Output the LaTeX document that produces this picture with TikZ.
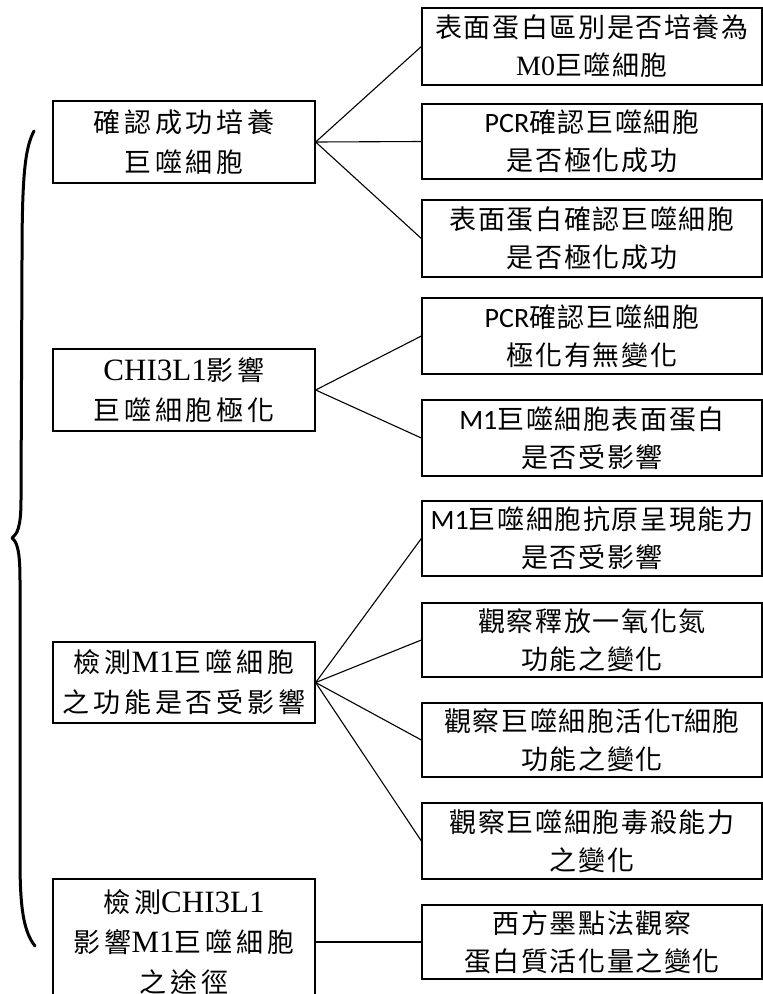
\documentclass[tikz,border=0pt]{standalone}
\usepackage{fontspec}
\setmainfont{Liberation Serif}
\newfontfamily\cjkR{Noto Sans CJK TC}[LetterSpace=6]
\newfontfamily\cjkL{Noto Sans CJK TC}[LetterSpace=14]
\newfontfamily\latR{Carlito}
\newfontfamily\latL{Liberation Serif}
\tikzset{
  lbox/.style={draw, line width=1.3pt, minimum width=262pt, minimum height=82pt,
    align=center, inner sep=0pt, font=\cjkL\fontsize{27}{40}\selectfont},
  rbox/.style={draw, line width=1.3pt, minimum width=340pt, minimum height=76pt,
    align=center, inner sep=0pt, font=\cjkR\fontsize{27}{38}\selectfont},
  link/.style={line width=1.1pt},
  bracepath/.style={line width=3pt, line cap=round, line join=round}
}
\begin{document}
\begin{tikzpicture}[x=1pt,y=-1pt]
\useasboundingbox (0,0) rectangle (763,994);
\fill[white] (0,0) rectangle (763,994);
% left boxes
\node[lbox] (l1) at (184,142) {確認成功培養\\巨噬細胞};
\node[lbox] (l2) at (184,390) {{\latL\fontsize{31}{40}\selectfont CHI3L1}影響\\巨噬細胞極化};
\node[lbox, minimum height=81pt] (l3) at (184,682.5) {檢測{\latL\fontsize{31}{40}\selectfont M1}巨噬細胞\\之功能是否受影響};
\node[lbox, minimum height=126pt] (l4) at (184,942) {檢測{\latL\fontsize{31}{40}\selectfont CHI3L1}\\影響{\latL\fontsize{31}{40}\selectfont M1}巨噬細胞\\之途徑};
% right boxes
\node[rbox, minimum height=77pt] (r1) at (592,46.5) {表面蛋白區別是否培養為\\{\latL\fontsize{28}{38}\selectfont M0}巨噬細胞};
\node[rbox, minimum height=75pt] (r2) at (592,141.5) {{\latR\fontsize{28}{38}\selectfont PCR}確認巨噬細胞\\是否極化成功};
\node[rbox, minimum height=77pt] (r3) at (592,238.5) {表面蛋白確認巨噬細胞\\是否極化成功};
\node[rbox] (r4) at (592,336) {{\latR\fontsize{28}{38}\selectfont PCR}確認巨噬細胞\\極化有無變化};
\node[rbox] (r5) at (592,438) {{\latR\fontsize{28}{38}\selectfont M1}巨噬細胞表面蛋白\\是否受影響};
\node[rbox, minimum height=75pt] (r6) at (592,538.5) {{\latR\fontsize{28}{38}\selectfont M1}巨噬細胞抗原呈現能力\\是否受影響};
\node[rbox, minimum height=74pt] (r7) at (592,640) {觀察釋放一氧化氮\\功能之變化};
\node[rbox, minimum height=74pt] (r8) at (592,740) {觀察巨噬細胞活化{\latR\fontsize{26}{38}\selectfont T}細胞\\功能之變化};
\node[rbox] (r9) at (592,841) {觀察巨噬細胞毒殺能力\\之變化};
\node[rbox, minimum height=74pt] (r10) at (592,942) {西方墨點法觀察\\蛋白質活化量之變化};
% connectors
\foreach \r in {r1,r2,r3} \draw[link] (l1.east) -- (\r.west);
\foreach \r in {r4,r5} \draw[link] (l2.east) -- (\r.west);
\foreach \r in {r6,r7,r8,r9} \draw[link] (l3.east) -- (\r.west);
\draw[link] (l4.east) -- (r10.west);
% brace
\coordinate (btop) at (34,131);
\coordinate (btip) at (12,538);
\coordinate (bbot) at (35,946);
\draw[bracepath] (btop) .. controls (25,148) and (22,175) .. (22,260)
  -- (21,500) .. controls (21,528) and (17,534) .. (btip)
  .. controls (17,542) and (20,550) .. (20,580)
  -- (20,860) .. controls (20,910) and (24,932) .. (bbot);
\end{tikzpicture}
\end{document}
